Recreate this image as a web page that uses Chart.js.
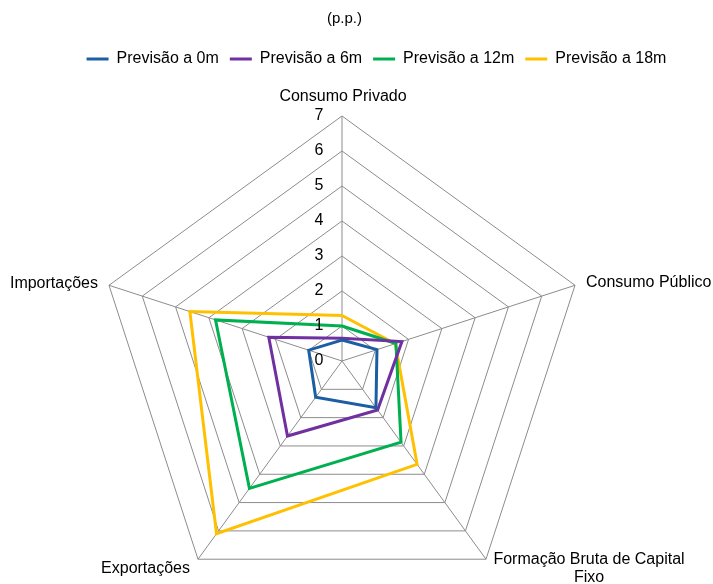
<!DOCTYPE html>
<html>
<head>
<meta charset="utf-8">
<script src="https://cdn.jsdelivr.net/npm/chart.js@4/dist/chart.umd.min.js"></script>
<style>
  html, body { margin: 0; padding: 0; background: #ffffff; }
  #wrap { width: 713px; height: 584px; }
</style>
</head>
<body>
<div id="wrap"><canvas id="c" width="713" height="584"></canvas></div>
<script>
const TITLE = '(p.p.)';
const categories = [
  ['Consumo Privado'],
  ['Consumo Público'],
  ['Formação Bruta de Capital', 'Fixo'],
  ['Exportações'],
  ['Importações']
];
const seriesNames = ['Previsão a 0m', 'Previsão a 6m', 'Previsão a 12m', 'Previsão a 18m'];
const prev0m  = [0.60, 1.05, 1.65, 1.28, 1.00];
const prev6m  = [0.65, 1.80, 1.73, 2.65, 2.20];
const prev12m = [1.00, 1.62, 2.87, 4.50, 3.80];
const prev18m = [1.30, 1.60, 3.65, 6.10, 4.57];
const tickValues = [0, 1, 2, 3, 4, 5, 6, 7];
const seriesColors = ['#1B5EA3', '#7030A0', '#00B050', '#FFC000'];

const FONT = '"Liberation Sans", Arial, Helvetica, sans-serif';

const textPlugin = {
  id: 'textPlugin',
  afterDraw(chart) {
    const s = chart.scales.r;
    const ctx = chart.ctx;
    ctx.save();
    ctx.fillStyle = '#000000';
    ctx.textBaseline = 'middle';
    // title
    ctx.font = '15px ' + FONT;
    ctx.textAlign = 'center';
    ctx.fillText(TITLE, 344.5, 19);
    // tick labels
    ctx.font = '16px ' + FONT;
    ctx.textAlign = 'center';
    tickValues.forEach(v => {
      const d = s.getDistanceFromCenterForValue(v);
      ctx.fillText(String(v), s.xCenter - 23, s.yCenter - d);
    });
    // point labels
    const R = s.getDistanceFromCenterForValue(s.max);
    const place = [
      {dx: 1, dy: -19, align: 'center'},
      {dx: 11, dy: -3, align: 'left'},
      {dx: 103, dy: 0, align: 'center'},
      {dx: -8, dy: 9, align: 'right'},
      {dx: -11, dy: -2, align: 'right'}
    ];
    categories.forEach((lines, i) => {
      const p = s.getPointPosition(i, R);
      const pl = place[i];
      ctx.textAlign = pl.align;
      lines.forEach((ln, k) => {
        ctx.fillText(ln, p.x + pl.dx, p.y + pl.dy + k * 18);
      });
    });
    ctx.restore();
  }
};

const datasets = [prev0m, prev6m, prev12m, prev18m].map((vals, i) => ({
  label: seriesNames[i],
  data: vals,
  borderColor: seriesColors[i],
  backgroundColor: seriesColors[i],
  borderWidth: 3,
  fill: false,
  pointRadius: 0,
  pointHoverRadius: 0,
  tension: 0,
  clip: false
}));

new Chart(document.getElementById('c'), {
  type: 'radar',
  data: {
    labels: categories.map(l => l.join(' ')),
    datasets: datasets
  },
  options: {
    responsive: false,
    animation: false,
    devicePixelRatio: 1,
    layout: { padding: { top: 40, left: 40, right: 0, bottom: 0 } },
    plugins: {
      title: { display: false },
      tooltip: { enabled: false },
      legend: {
        display: true,
        position: 'top',
        labels: {
          boxWidth: 22,
          boxHeight: 3,
          padding: 11,
          color: '#000000',
          font: { family: FONT, size: 16 },
          generateLabels(chart) {
            return chart.data.datasets.map((ds, i) => ({
              text: ds.label,
              fillStyle: ds.borderColor,
              strokeStyle: ds.borderColor,
              lineWidth: 0,
              hidden: false,
              datasetIndex: i,
              fontColor: '#000000'
            }));
          }
        }
      }
    },
    scales: {
      r: {
        min: 0,
        max: 7,
        ticks: { stepSize: 1, display: false },
        pointLabels: { display: false },
        grid: { color: '#8C8C8C', lineWidth: 1 },
        angleLines: { color: '#8C8C8C', lineWidth: 1 },
        afterFit(scale) {
          scale.xCenter = 342;
          scale.yCenter = 361;
          scale.drawingArea = 245;
        }
      }
    }
  },
  plugins: [textPlugin]
});
</script>
</body>
</html>
